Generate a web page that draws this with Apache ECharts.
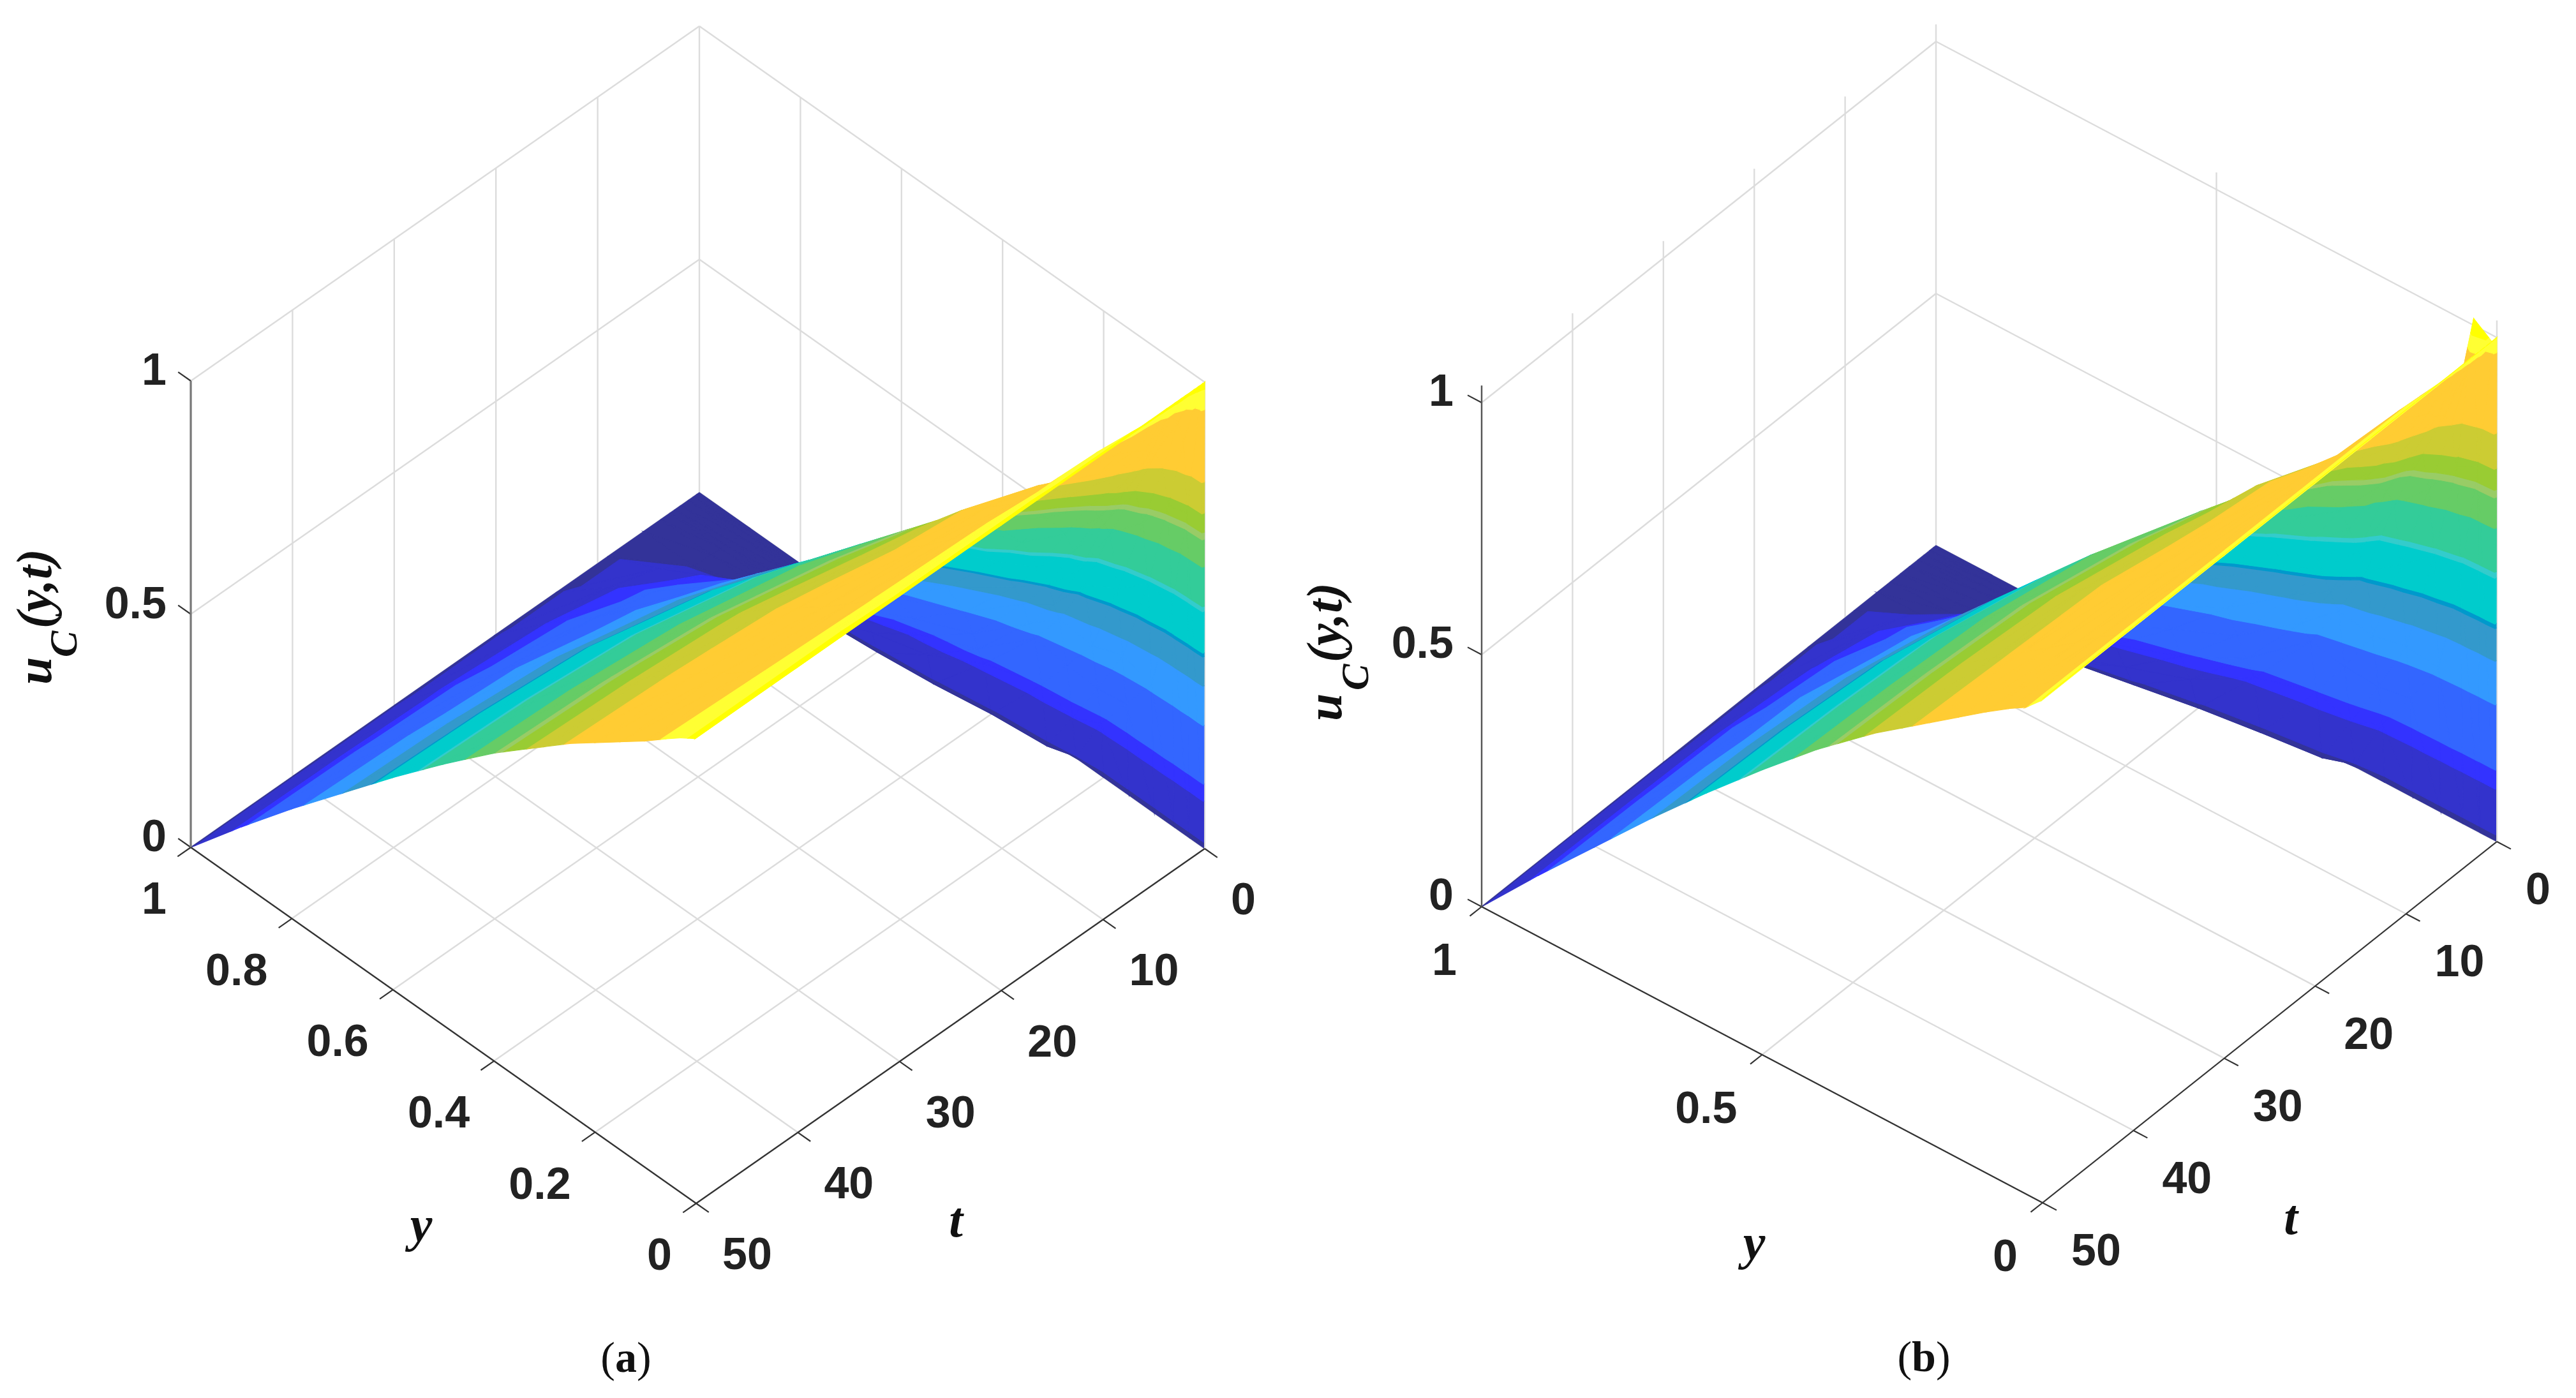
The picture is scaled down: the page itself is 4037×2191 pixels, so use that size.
<!DOCTYPE html>
<html><head><meta charset="utf-8">
<style>html,body{margin:0;padding:0;background:#fff}#c{width:4037px;height:2191px}</style>
<script src="https://cdn.jsdelivr.net/npm/echarts@6/dist/echarts.min.js"></script>
</head><body><div id="c"></div>
<script>
// ---------- data ----------
const timeGridA = [0, 0.25, 0.6, 1.1, 1.85, 2.4, 2.9, 3.8, 5.5, 9, 14, 20, 30, 40, 50];
const timeGridB = [0, 0.25, 0.7, 1.3, 2, 2.9, 3.9, 5, 6.5, 9, 14, 20, 30, 40, 50];
const yGrid = [0, 0.002, 0.03, 0.06, 0.1, 0.15, 0.2, 0.25, 0.3, 0.4, 0.5, 0.6, 0.7, 0.8, 0.9, 1];
const surfaceA = [
 [1,0,0,0,0,0,0,0,0,0,0,0,0,0,0,0],
 [1,.985,.70,.48,.28,.20,.12,.01,0,0,0,0,0,0,0,0],
 [1,.99,.86,.70,.50,.31,.20,.10,0,0,0,0,0,0,0,0],
 [1,.995,.91,.79,.64,.46,.30,.22,.14,0,0,0,0,0,0,0],
 [1,.995,.93,.83,.72,.59,.44,.33,.25,.12,0,0,0,0,0,0],
 [1,.995,.93,.84,.74,.62,.48,.37,.29,.16,.07,0,0,0,0,0],
 [1,.995,.94,.85,.755,.64,.53,.42,.34,.20,.12,.05,.002,0,0,0],
 [1,.995,.945,.865,.78,.68,.58,.47,.39,.26,.17,.09,.03,.003,0,0],
 [1,.995,.95,.885,.81,.73,.64,.55,.47,.34,.24,.145,.075,.025,.002,0],
 [1,.995,.965,.91,.85,.80,.73,.65,.60,.49,.355,.25,.17,.11,.05,0],
 [1,.995,.965,.925,.875,.83,.785,.725,.67,.56,.45,.345,.24,.155,.085,0],
 [1,.995,.97,.935,.89,.84,.795,.745,.70,.605,.50,.39,.285,.19,.10,0],
 [1,.995,.97,.94,.905,.86,.82,.78,.735,.64,.54,.435,.325,.22,.113,0],
 [1,.995,.975,.945,.91,.87,.83,.79,.745,.655,.555,.45,.34,.23,.118,0],
 [1,.995,.975,.95,.915,.875,.835,.795,.75,.66,.56,.455,.345,.235,.12,0]
];
const surfaceB = [
 [1,0,0,0,0,0,0,0,0,0,0,0,0,0,0,0],
 [1,.99,.73,.50,.29,.20,.12,.01,0,0,0,0,0,0,0,0],
 [1,.99,1.03,.72,.52,.31,.20,.10,0,0,0,0,0,0,0,0],
 [1,.995,.94,.81,.66,.48,.31,.22,.14,0,0,0,0,0,0,0],
 [1,.995,.94,.84,.74,.61,.45,.34,.25,.12,0,0,0,0,0,0],
 [1,.995,.945,.85,.76,.65,.50,.39,.30,.17,.07,0,0,0,0,0],
 [1,.995,.95,.87,.78,.67,.56,.45,.37,.23,.13,.05,.002,0,0,0],
 [1,.995,.955,.88,.80,.71,.61,.52,.44,.30,.20,.11,.03,.003,0,0],
 [1,.995,.96,.90,.83,.76,.68,.59,.52,.38,.27,.17,.09,.03,.002,0],
 [1,.995,.965,.91,.855,.80,.73,.66,.60,.49,.36,.26,.17,.11,.05,0],
 [1,.995,.965,.93,.88,.835,.79,.73,.68,.57,.46,.35,.245,.16,.085,0],
 [1,.995,.965,.935,.895,.845,.80,.755,.71,.62,.51,.40,.29,.195,.10,0],
 [1,.995,.965,.94,.905,.865,.825,.785,.74,.65,.55,.44,.33,.225,.115,0],
 [1,.995,.965,.945,.91,.87,.83,.79,.75,.66,.56,.455,.345,.23,.118,0],
 [1,.995,.965,.945,.915,.875,.835,.795,.755,.665,.565,.46,.35,.235,.12,0]
];
const bandColors = ['#333399','#3333CC','#3333FF','#3366FF','#3399FF','#3399CC','#0099CC','#00CCCC','#33CCCC','#33CC99','#66CC66','#99CC66','#99CC33','#CCCC33','#FFCC33','#FFFF33','#FFFF00'];
const bandTopsA = [.012,.10,.137,.263,.348,.411,.419,.508,.519,.604,.663,.678,.719,.786,.941,.985,1.05];
const bandTopsB = [.012,.103,.141,.271,.358,.423,.432,.523,.535,.622,.683,.698,.74,.81,.97,1.0,1.1];
const timeTicks = [0, 10, 20, 30, 40, 50];
const yTicksA = [0, 0.2, 0.4, 0.6, 0.8, 1];
const yTicksB = [0, 0.5, 1];
const zTicks = [0, 0.5, 1];
const zTopA = 1, zTopB = 1.034;
const captions = ['(a)', '(b)'];

// ---------- view of each panel (screen position of the box corners) ----------
const viewA = {o:[1888,1330], t:[-797,556], y:[-792,-558], z:731};
const viewB = {o:[3913,1319], t:[-712,566], y:[-879,-464], z:790};
const project = (v,t,y,z)=>[v.o[0]+v.t[0]*t/50+v.y[0]*y, v.o[1]+v.t[1]*t/50+v.y[1]*y-v.z*z];

function clipBand(tri, lo, hi){
  const cut = (poly, keep, lev)=>{
    const out=[];
    for(let i=0;i<poly.length;i++){
      const a=poly[i], b=poly[(i+1)%poly.length];
      const ka=keep(a[2]), kb=keep(b[2]);
      if(ka) out.push(a);
      if(ka!==kb){ const f=(lev-a[2])/(b[2]-a[2]); out.push([a[0]+f*(b[0]-a[0]),a[1]+f*(b[1]-a[1]),lev]); }
    }
    return out;
  };
  let p = cut(tri, u=>u>=lo, lo);
  if(p.length) p = cut(p, u=>u<=hi, hi);
  return p;
}

function surfaceSeries(view, timeGrid, table, tops){
  const cells=[];
  for(let i=0;i<timeGrid.length-1;i++) for(let j=yGrid.length-2;j>=0;j--) cells.push([i,j]);
  return {
    type:'custom', coordinateSystem:'cartesian2d', silent:true, animation:false, clip:false, z:2,
    data:cells,
    renderItem(params, api){
      const i=api.value(0), j=api.value(1);
      const P=(a,b)=>[timeGrid[a],yGrid[b],table[a][b]];
      const tris=[[P(i,j),P(i,j+1),P(i+1,j+1)],[P(i,j),P(i+1,j+1),P(i+1,j)]];
      const children=[];
      tris.forEach(tri=>{
        let lo=-1;
        tops.forEach((hi,k)=>{
          const poly=clipBand(tri,lo,hi); lo=hi;
          if(poly.length<3) return;
          children.push({type:'polygon',shape:{points:poly.map(q=>api.coord(project(view,q[0],q[1],q[2])))},
            style:{fill:bandColors[k],stroke:bandColors[k],lineWidth:1.2}});
        });
      });
      return {type:'group',children};
    }
  };
}

function lineSeries(view, segs, color, width, z){
  return {
    type:'custom', coordinateSystem:'cartesian2d', silent:true, animation:false, clip:false, z,
    data:segs.map((s,i)=>[i]),
    renderItem(params, api){
      const s=segs[api.value(0)];
      const a=api.coord(project(view,s[0],s[1],s[2])), b=api.coord(project(view,s[3],s[4],s[5]));
      return {type:'line',shape:{x1:a[0],y1:a[1],x2:b[0],y2:b[1]},style:{stroke:color,lineWidth:width}};
    }
  };
}

function gridSegs(yTicks, zTop){
  const s=[];
  timeTicks.forEach(t=>{ s.push([t,0,0,t,1,0]); if(t>0) s.push([t,1,0,t,1,zTop]); });
  yTicks.forEach(y=>{ s.push([0,y,0,50,y,0]); s.push([0,y,0,0,y,zTop]); });
  zTicks.filter(z=>z>0).forEach(z=>{ s.push([0,0,z,0,1,z]); s.push([0,1,z,50,1,z]); });
  return s;
}
function axisSegs(yTicks){
  const s=[[50,0,0,50,1,0],[0,0,0,50,0,0]];
  yTicks.forEach(y=>s.push([50,y,0,51.3,y,0]));
  timeTicks.forEach(t=>s.push([t,0,0,t,-0.025,0]));
  zTicks.forEach(z=>s.push([50,1,z,50,1.025,z]));
  return s;
}

const SANS='"Liberation Sans",Arial,sans-serif', SERIF='"Liberation Serif","Times New Roman",serif';
function textSeries(items){
  return {
    type:'custom', coordinateSystem:'cartesian2d', silent:true, animation:false, clip:false, z:5,
    data:items.map((s,i)=>[i]),
    renderItem(params, api){
      const d=items[api.value(0)];
      const p=api.coord(d.p ? [d.p[0]+d.dx, d.p[1]+d.dy] : [d.x,d.y]);
      return {type:'text',x:p[0],y:p[1],rotation:d.rot||0,style:Object.assign({
        text:d.text,align:d.align||'center',verticalAlign:d.va||'middle',
        fill:d.fill||'#222',fontFamily:d.family||SANS,fontWeight:d.weight||'bold',fontSize:d.size||70,fontStyle:d.style||'normal'},d.extra||{})};
    }
  };
}
function tickLabels(view, yTicks, off){
  const out=[];
  const fmt=v=>String(v);
  timeTicks.forEach(t=>out.push({text:fmt(t),p:project(view,t,0,0),dx:off.t[0],dy:off.t[1],align:'left'}));
  yTicks.forEach(y=>out.push({text:fmt(y),p:project(view,50,y,0),dx:off.y[0],dy:off.y[1],align:'right'}));
  zTicks.forEach(z=>out.push({text:fmt(z),p:project(view,50,1,z),dx:off.z[0],dy:off.z[1],align:'right'}));
  return out;
}
const R=Math.PI/2;
function axisTitles(L){
  const f={family:SERIF,style:'italic',fill:'#111'};
  return [
    Object.assign({text:'u',x:L.ub+16,y:L.u,rot:R,align:'left',va:'bottom',size:78},f),
    Object.assign({text:'C',x:L.cb+13,y:L.c,rot:R,align:'left',va:'bottom',size:62},f),
    Object.assign({text:'(y,t)',x:L.ub+16,y:L.p,rot:R,align:'left',va:'bottom',size:78},f),
    Object.assign({text:'y',x:L.yl[0],y:L.yl[1],size:78},f),
    Object.assign({text:'t',x:L.tl[0],y:L.tl[1],size:78},f)
  ];
}
function caption(text,x,y){
  const m=text.replace(/[()]/g,'');
  return {text:'{p|(}{b|'+m+'}{p|)}',x,y,family:SERIF,weight:'normal',fill:'#111',size:68,
    extra:{rich:{p:{fontFamily:SERIF,fontSize:68,fill:'#111'},b:{fontFamily:SERIF,fontSize:68,fontWeight:'bold',fill:'#111'}}}};
}

const itemsA = tickLabels(viewA,yTicksA,{t:[41,84],y:[-38,85],z:[-38,-13]})
  .concat(axisTitles({ub:83,u:1073,cb:122,c:1030,p:985,yl:[660,1925],tl:[1498,1918]}),[caption(captions[0],981,2132)]);
const itemsB = tickLabels(viewB,yTicksB,{t:[45,79],y:[-39,88],z:[-44,-14]})
  .concat(axisTitles({ub:2105,u:1130,cb:2146,c:1082,p:1038,yl:[2749,1953],tl:[3590,1914]}),[caption(captions[1],3015,2131)]);

const chart = echarts.init(document.getElementById('c'),null,{renderer:'canvas'});
chart.setOption({
  backgroundColor:'#fff', animation:false,
  grid:{left:0,right:0,top:0,bottom:0},
  xAxis:{type:'value',min:0,max:4037,show:false},
  yAxis:{type:'value',min:0,max:2191,inverse:true,show:false},
  series:[
    lineSeries(viewA,gridSegs(yTicksA,zTopA),'#dcdcdc',2.4,1),
    lineSeries(viewB,gridSegs(yTicksB,zTopB),'#dcdcdc',2.4,1),
    surfaceSeries(viewA,timeGridA,surfaceA,bandTopsA),
    surfaceSeries(viewB,timeGridB,surfaceB,bandTopsB),
    lineSeries(viewA,axisSegs(yTicksA),'#333',2.2,3),
    lineSeries(viewB,axisSegs(yTicksB),'#333',2.2,3),
    lineSeries(viewA,[[50,1,0,50,1,zTopA]],'#777',3.2,3),
    lineSeries(viewB,[[50,1,0,50,1,zTopB]],'#555',2.4,3),
    textSeries(itemsA),
    textSeries(itemsB)
  ]
});
</script></body></html>
